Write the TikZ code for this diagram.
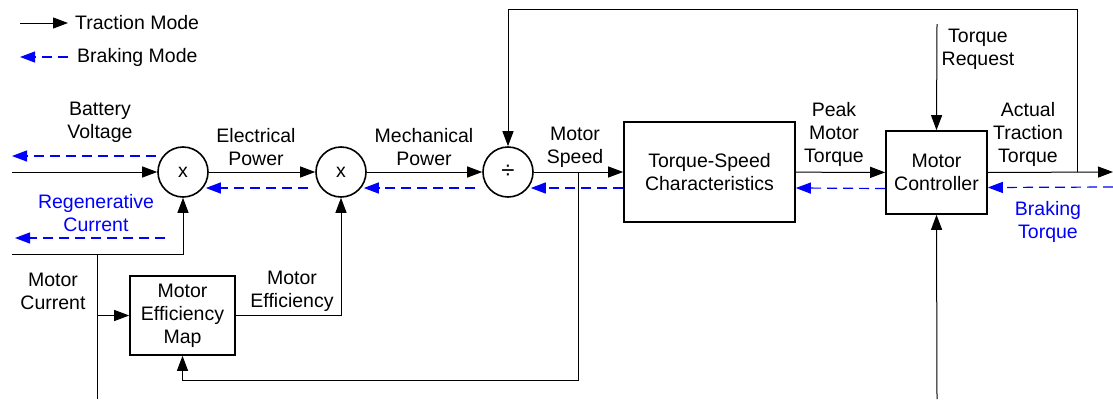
\documentclass[tikz,border=0pt]{standalone}
\usepackage{fontspec}
\setmainfont{Liberation Sans}
\usetikzlibrary{arrows.meta,calc}
\begin{document}
\begin{tikzpicture}[x=1pt,y=-1pt,
  >={Triangle[length=15pt,width=11pt]},
  lbl/.style={font=\fontsize{19.5}{23}\selectfont, align=center, inner sep=0pt},
  blbl/.style={lbl, text=blue},
  circ/.style={draw, circle, line width=1.6pt, minimum size=50pt, inner sep=0pt, font=\fontsize{19.5}{23}\selectfont},
  blk/.style={draw, line width=1.6pt, inner sep=0pt, align=center, font=\fontsize{19.5}{23}\selectfont},
  trac/.style={->, line width=1pt},
  wire/.style={line width=1pt},
  brk/.style={->, blue, line width=1.2pt, dash pattern=on 10pt off 6pt}]
\useasboundingbox (0,0) rectangle (1113,399);

% legend
\coordinate (lgA) at (20,23);
\coordinate (lgB) at (68,23);
\node[lbl, anchor=west] (lgT) at (75,23) {Traction Mode};
\draw[trac] (lgA) -- (lgB);
\coordinate (lgC) at (68,57);
\coordinate (lgD) at (20,57);
\node[lbl, anchor=west] (lgK) at (77,57) {Braking Mode};
\draw[brk] (lgC) -- (lgD);

% blocks
\node[circ] (m1) at (183,172) {x};
\node[circ] (m2) at (341,172) {x};
\node[circ, font=\fontsize{24}{24}\selectfont] (dv) at (508,172) {÷};
\node[blk, minimum width=171pt, minimum height=100pt] (ts) at (709.5,172) {Torque-Speed\\Characteristics};
\node[blk, minimum width=101pt, minimum height=83pt] (mc) at (936.5,172.5) {Motor\\Controller};
\node[blk, minimum width=105pt, minimum height=79pt] (map) at (182.5,315.5) {Motor\\Efficiency\\Map};

% labels
\node[lbl] (lBV) at (100,122) {Battery\\Voltage};
\node[lbl] (lEP) at (256,147) {Electrical\\Power};
\node[lbl] (lMP) at (424,147) {Mechanical\\Power};
\node[lbl] (lMS) at (575,147) {Motor\\Speed};
\node[blbl] (lRC) at (96,213) {Regenerative\\Current};
\node[lbl] (lMC) at (53,291) {Motor\\Current};
\node[lbl] (lME) at (292,291) {Motor\\Efficiency};
\node[lbl] (lPT) at (834,134) {Peak\\Motor\\Torque};
\node[lbl] (lAT) at (1028,134) {Actual\\Traction\\Torque};
\node[blbl] (lBT) at (1048,222) {Braking\\Torque};
\node[lbl] (lTR) at (978,49) {Torque\\Request};

% coordinates
\coordinate (inV) at (12,172);
\coordinate (bvOut) at (12,156);
\coordinate (rcA) at (165,238);
\coordinate (rcB) at (15,238);
\coordinate (mcIn) at (12,254);
\coordinate (br1) at (97,254);
\coordinate (br1b) at (97,399);
\coordinate (sp) at (578,172);
\coordinate (spB) at (578,380);
\coordinate (fb) at (1077,172);
\coordinate (fbT) at (1077,9);
\coordinate (tr) at (937,24);
\coordinate (bt) at (937,399);
\coordinate (out) at (1113,172);
\coordinate (bIn) at (1113,187);

% traction path
\draw[trac] (inV) -- (m1);
\draw[trac] (m1) -- (m2);
\draw[trac] (m2) -- (dv);
\draw[trac] (dv) -- (ts);
\draw[trac] (ts) -- (mc);
\draw[trac] (mc.east) -- (out);
\draw[trac] (mcIn) -| (m1);
\draw[wire] (br1) -- (br1b);
\draw[trac] (br1 |- map.west) -- (map.west);
\draw[trac] (map.east) -| (m2);
\draw[trac] (sp) -- (spB) -| (map.south);
\draw[trac] (fb) -- (fbT) -| (dv);
\draw[trac] (tr) -- (mc.north);
\draw[trac] (bt) -- (mc.south);

% braking path
\draw[brk] ([yshift=16pt,xshift=-1pt]m1.west) -- (bvOut);
\draw[brk] (rcA) -- (rcB);
\draw[brk] ([yshift=-16pt,xshift=-7pt]m2.west) -- ([yshift=-16pt,xshift=-3pt]m1.east);
\draw[brk] ([yshift=-16pt,xshift=-7pt]dv.west) -- ([yshift=-16pt,xshift=-3pt]m2.east);
\draw[brk] ([yshift=-16pt]ts.west) -- ([yshift=-16pt,xshift=-3pt]dv.east);
\draw[brk] ([yshift=-16pt]mc.west) -- ([yshift=-16pt]ts.east);
\draw[brk] (bIn) -- ([yshift=-15pt]mc.east);
\end{tikzpicture}
\end{document}
